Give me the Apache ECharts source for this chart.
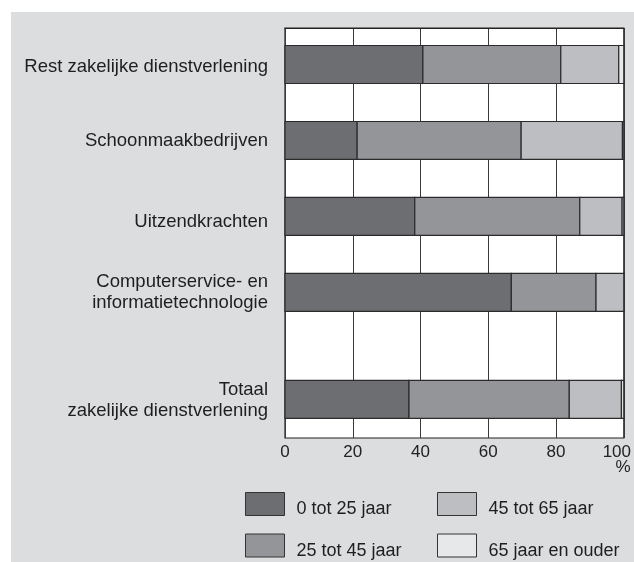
<!DOCTYPE html>
<html>
<head>
<meta charset="utf-8">
<script src="https://cdn.jsdelivr.net/npm/echarts@6/dist/echarts.min.js"></script>
<style>
  html, body { margin: 0; padding: 0; background: #fff; }
  #chart { width: 634px; height: 562px; }
</style>
</head>
<body>
<div id="chart"></div>
<script>
// Branches, top to bottom
const categories = [
  'Rest zakelijke dienstverlening',
  'Schoonmaakbedrijven',
  'Uitzendkrachten',
  'Computerservice- en\ninformatietechnologie',
  'Totaal\nzakelijke dienstverlening'
];

// Age groups (legend order)
const ageGroups = ['0 tot 25 jaar', '25 tot 45 jaar', '45 tot 65 jaar', '65 jaar en ouder'];

// Share of workers per age group, % per branch
const age0to25  = [40.7, 21.3, 38.3, 66.8, 36.6];
const age25to45 = [40.7, 48.4, 48.7, 25.0, 47.3];
const age45to65 = [17.1, 29.9, 12.5,  8.2, 15.4];
const age65plus = [ 1.5,  0.4,  0.5,  0.0,  0.7];

// X axis tick values
const xTicks = [0, 20, 40, 60, 80, 100];

// Row layout on the vertical axis (in row units, top = 0)
const rowPos   = [0.48, 1.48, 2.48, 3.48, 4.886];
const labelPos = [0.515, 1.49, 2.545, 3.475, 4.895];
const rowSpan  = 5.395;
const barThick = 0.5;

const colors = ['#6d6e71', '#949598', '#bdbec1', '#e7e8e9'];
const values = [age0to25, age25to45, age45to65, age65plus];

// Build start/end pairs for each stacked segment
const cum = categories.map(() => 0);
const seriesData = values.map(arr => arr.map((v, i) => {
  const s = cum[i];
  cum[i] += v;
  return [s, cum[i], rowPos[i]];
}));

function renderSegment(params, api) {
  const y = api.value(2);
  const p0 = api.coord([api.value(0), y]);
  const p1 = api.coord([api.value(1), y]);
  const h = api.size([0, barThick])[1];
  const w = p1[0] - p0[0];
  if (w <= 0) return null;
  return {
    type: 'rect',
    shape: { x: p0[0], y: p0[1] - h / 2, width: w, height: h },
    style: { fill: api.visual('color'), stroke: '#2b2b2b', lineWidth: 1.2 }
  };
}

const font = '"Liberation Sans", Arial, Helvetica, sans-serif';
const chart = echarts.init(document.getElementById('chart'), null, { renderer: 'canvas' });

const legendBase = {
  orient: 'vertical', top: 492, height: 80, padding: 0,
  itemWidth: 39, itemHeight: 23, itemGap: 15, icon: 'rect',
  itemStyle: { borderColor: '#333', borderWidth: 1 },
  formatter: name => '{t|' + name + '}',
  textStyle: {
    fontSize: 18, color: '#1e1e1e', fontFamily: font, padding: [0, 0, 0, 7],
    rich: { t: { fontSize: 18, color: '#1e1e1e', fontFamily: font, padding: [11, 0, 0, 0] } }
  },
  selectedMode: false
};

chart.setOption({
  animation: false,
  backgroundColor: '#ffffff',
  textStyle: { fontFamily: font },
  graphic: [
    {
      type: 'rect', z: -10, silent: true,
      shape: { x: 11, y: 12, width: 623, height: 550 },
      style: { fill: '#dcdddf' }
    },
    {
      type: 'text', z: 10, silent: true,
      x: 623, y: 467,
      style: { text: '%', fontSize: 17, fontFamily: font, fill: '#222', align: 'center', verticalAlign: 'middle' }
    }
  ],
  grid: {
    left: 285, top: 28, width: 340, height: 410,
    show: true, backgroundColor: '#ffffff', borderColor: '#222', borderWidth: 1.2
  },
  xAxis: {
    type: 'value', min: 0, max: 100, interval: 20,
    axisLine: { show: true, lineStyle: { color: '#222', width: 1.2 } },
    axisTick: { show: false },
    splitLine: { show: true, lineStyle: { color: '#3a3a3a', width: 1 } },
    axisLabel: {
      color: '#222', fontSize: 17, margin: 6, fontFamily: font,
      customValues: xTicks,
      formatter: v => (v === 100 ? '{last|100}' : String(v)),
      rich: { last: { fontSize: 17, color: '#222', fontFamily: font, padding: [0, 14, 0, 0] } }
    }
  },
  yAxis: {
    type: 'value', inverse: true, min: 0, max: rowSpan,
    axisLine: { show: false },
    axisTick: { show: false },
    splitLine: { show: false },
    axisLabel: {
      color: '#1e1e1e', fontSize: 18.5, lineHeight: 21, margin: 17, align: 'right', fontFamily: font,
      customValues: labelPos,
      formatter: v => {
        let best = 0;
        labelPos.forEach((p, i) => { if (Math.abs(p - v) < Math.abs(labelPos[best] - v)) best = i; });
        return categories[best];
      }
    }
  },
  legend: [
    Object.assign({}, legendBase, { data: ageGroups.slice(0, 2), left: 245 }),
    Object.assign({}, legendBase, { data: ageGroups.slice(2, 4), left: 437 })
  ],
  series: ageGroups.map((name, k) => ({
    name: name,
    type: 'custom',
    renderItem: renderSegment,
    itemStyle: { color: colors[k], borderColor: '#333', borderWidth: 1 },
    encode: { x: [0, 1], y: 2 },
    data: seriesData[k],
    clip: false
  }))
});
</script>
</body>
</html>
